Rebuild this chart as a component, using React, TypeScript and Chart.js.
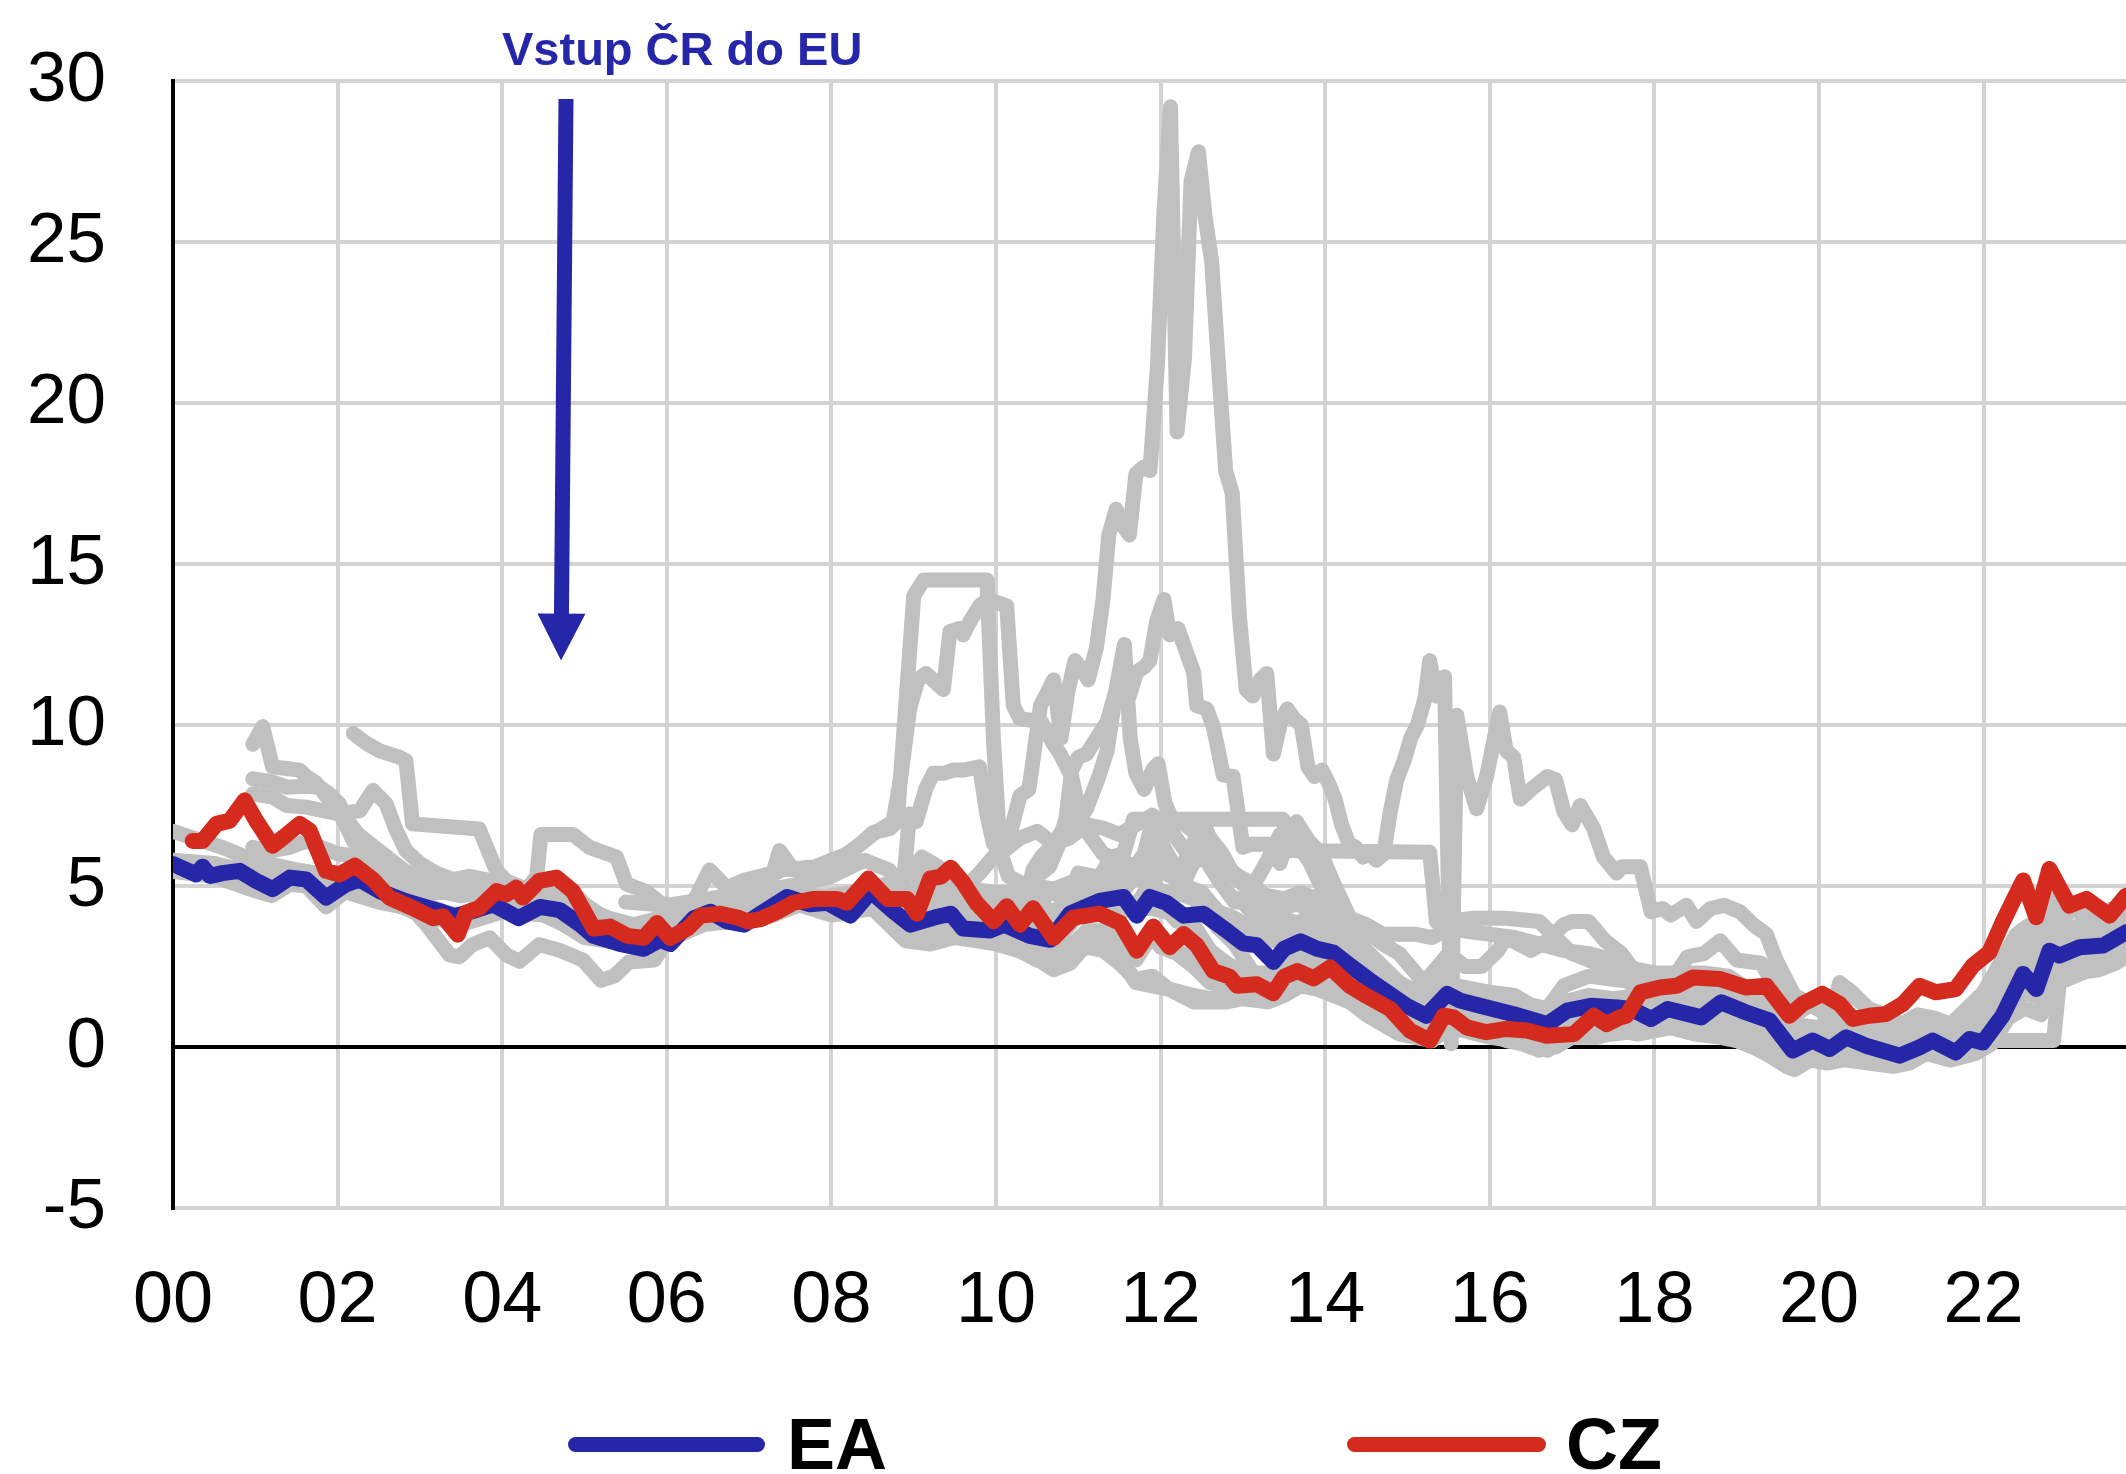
import React, { useEffect, useRef } from 'react';
import { Chart, registerables } from 'chart.js';

Chart.register(...registerables);

type Pt = [number, number];

// ---- axes / labels ----
const xTickYears = [0, 2, 4, 6, 8, 10, 12, 14, 16, 18, 20, 22];
const xMin = 0;
const xMax = 23.73;
const yMin = -5;
const yMax = 30;
const yStep = 5;
const annotationText = 'Vstup ČR do EU';
const arrowFrom: Pt = [4.775, 29.44];
const arrowTo: Pt = [4.715, 12.0];
const legendLabels = ['EA', 'CZ'];

// ---- series (x = years since 2000, y = %) ----
const ea: Pt[] = [[0,5.68],[0.28,5.36],[0.36,5.6],[0.45,5.31],[0.6,5.4],[0.81,5.47],[1.01,5.16],[1.21,4.9],[1.42,5.26],[1.62,5.2],[1.86,4.64],[2.1,5.05],[2.27,5.2],[2.51,4.84],[2.83,4.53],[3.0,4.4],[3.24,4.22],[3.42,4.06],[3.64,4.22],[3.89,4.43],[4.2,4.0],[4.46,4.35],[4.7,4.25],[4.95,3.8],[5.11,3.45],[5.43,3.2],[5.72,3.05],[5.92,3.33],[6.04,3.2],[6.33,4.0],[6.53,4.2],[6.73,3.9],[6.94,3.8],[7.14,4.14],[7.46,4.66],[7.74,4.43],[7.95,4.48],[8.23,4.08],[8.48,4.83],[8.76,4.2],[8.96,3.8],[9.25,4.02],[9.45,4.14],[9.6,3.68],[9.93,3.62],[10.1,3.8],[10.41,3.45],[10.66,3.33],[10.9,4.14],[11.26,4.54],[11.55,4.66],[11.71,4.08],[11.87,4.66],[12.07,4.48],[12.28,4.08],[12.52,4.14],[12.8,3.62],[13.0,3.22],[13.17,3.16],[13.37,2.64],[13.5,3.05],[13.7,3.28],[13.9,3.05],[14.1,2.93],[14.3,2.53],[14.58,2.0],[14.99,1.28],[15.23,0.97],[15.48,1.65],[15.64,1.44],[15.88,1.28],[16.29,1.02],[16.7,0.71],[16.94,1.13],[17.23,1.28],[17.55,1.23],[17.72,1.18],[17.96,0.87],[18.16,1.18],[18.57,0.92],[18.81,1.39],[19.11,1.08],[19.4,0.82],[19.68,-0.11],[19.92,0.2],[20.13,-0.06],[20.33,0.3],[20.57,0.04],[20.98,-0.27],[21.22,-0.01],[21.38,0.2],[21.66,-0.17],[21.83,0.25],[21.99,0.14],[22.23,0.97],[22.48,2.27],[22.64,1.8],[22.8,2.99],[22.92,2.84],[23.17,3.1],[23.45,3.15],[23.73,3.56]];

const cz: Pt[] = [[0.24,6.4],[0.36,6.4],[0.53,6.93],[0.69,7.03],[0.87,7.66],[1.01,7.03],[1.21,6.25],[1.34,6.51],[1.54,6.93],[1.66,6.72],[1.86,5.47],[2.02,5.36],[2.21,5.63],[2.43,5.2],[2.63,4.64],[2.91,4.32],[3.16,4.0],[3.28,4.06],[3.46,3.49],[3.56,4.17],[3.72,4.32],[3.93,4.84],[4.05,4.74],[4.17,4.95],[4.25,4.64],[4.45,5.16],[4.66,5.26],[4.86,4.83],[5.11,3.68],[5.31,3.74],[5.52,3.45],[5.72,3.39],[5.88,3.85],[6.04,3.39],[6.25,3.68],[6.41,4.08],[6.65,4.14],[6.86,4.02],[6.98,3.9],[7.14,3.97],[7.34,4.2],[7.54,4.48],[7.79,4.6],[8.07,4.6],[8.19,4.48],[8.45,5.23],[8.68,4.6],[8.92,4.6],[9.04,4.14],[9.2,5.23],[9.33,5.29],[9.45,5.57],[9.6,5.11],[9.76,4.48],[9.97,3.9],[10.13,4.37],[10.29,3.8],[10.45,4.31],[10.7,3.39],[10.94,4.02],[11.26,4.14],[11.51,3.85],[11.71,2.99],[11.91,3.74],[12.11,3.1],[12.28,3.51],[12.44,3.16],[12.64,2.36],[12.84,2.18],[12.93,1.9],[13.17,1.95],[13.37,1.67],[13.5,2.18],[13.66,2.36],[13.86,2.13],[14.06,2.47],[14.3,1.9],[14.5,1.59],[14.79,1.18],[15.03,0.51],[15.27,0.2],[15.44,0.97],[15.56,0.92],[15.72,0.61],[15.96,0.46],[16.2,0.56],[16.45,0.51],[16.69,0.35],[17.02,0.4],[17.26,0.97],[17.42,0.71],[17.58,0.92],[17.66,0.97],[17.83,1.7],[18.07,1.85],[18.27,1.9],[18.47,2.16],[18.8,2.11],[19.11,1.85],[19.36,1.9],[19.64,0.97],[19.8,1.34],[20.04,1.65],[20.25,1.34],[20.41,0.87],[20.61,0.97],[20.81,1.02],[21.02,1.34],[21.22,1.9],[21.42,1.7],[21.66,1.8],[21.87,2.53],[22.07,2.94],[22.23,3.87],[22.48,5.17],[22.64,4.03],[22.8,5.53],[23.04,4.39],[23.25,4.6],[23.53,4.08],[23.73,4.7]];

const gr: Pt[] = [[0.0,6.7],[0.3,6.45],[0.6,6.2],[0.97,5.8],[1.5,5.5],[2.0,5.3],[2.4,5.3],[2.8,4.7],[3.2,4.3],[3.5,4.0],[3.8,4.6],[4.2,4.5],[4.5,4.6],[4.8,4.0],[5.2,3.6],[5.6,3.5],[6.0,3.9],[6.4,4.2],[6.8,4.2],[7.3,4.6],[7.8,4.6],[8.3,4.8],[8.6,5.0],[8.9,5.3],[9.1,5.9],[9.3,5.6],[9.6,4.9],[9.8,5.4],[10.0,6.0],[10.15,6.4],[10.29,7.8],[10.4,8.0],[10.46,9.1],[10.54,10.6],[10.7,11.4],[10.79,9.6],[10.87,11.0],[10.96,12.0],[11.05,11.7],[11.12,11.4],[11.22,12.4],[11.3,13.9],[11.37,15.9],[11.46,16.7],[11.54,16.2],[11.62,15.9],[11.7,17.8],[11.79,18.0],[11.87,17.9],[11.96,21.1],[12.04,25.9],[12.12,29.2],[12.2,19.1],[12.29,21.4],[12.37,26.9],[12.46,27.8],[12.54,25.8],[12.62,24.4],[12.71,20.9],[12.79,17.9],[12.87,17.2],[12.96,13.3],[13.04,11.1],[13.12,10.9],[13.21,11.4],[13.29,11.6],[13.37,9.1],[13.46,10.1],[13.54,10.5],[13.62,10.2],[13.71,10.0],[13.79,8.7],[13.87,8.4],[13.96,8.6],[14.04,8.2],[14.12,7.7],[14.2,6.9],[14.29,6.3],[14.37,6.2],[14.46,5.9],[14.54,6.0],[14.62,5.8],[14.71,6.0],[14.79,7.3],[14.87,8.3],[14.96,8.9],[15.04,9.6],[15.12,10.0],[15.21,10.8],[15.27,12.0],[15.35,10.9],[15.45,11.5],[15.53,0.1],[15.6,10.3],[15.72,8.4],[15.84,7.4],[15.96,8.4],[16.04,9.4],[16.12,10.4],[16.2,9.2],[16.29,9.0],[16.37,7.7],[16.5,8.0],[16.7,8.4],[16.8,8.3],[16.9,7.3],[17.0,6.9],[17.1,7.5],[17.26,6.8],[17.38,5.9],[17.54,5.4],[17.6,5.6],[17.83,5.6],[17.96,4.2],[18.1,4.3],[18.2,4.1],[18.39,4.4],[18.51,3.9],[18.68,4.3],[18.85,4.4],[19.04,4.2],[19.2,3.8],[19.36,3.5],[19.48,2.7],[19.6,2.1],[19.7,1.6],[19.85,1.4],[20.0,1.3],[20.15,1.0],[20.25,2.0],[20.4,1.7],[20.6,1.2],[20.8,1.0],[21.0,0.7],[21.2,1.0],[21.4,0.9],[21.6,0.7],[21.8,1.2],[22.0,1.7],[22.2,2.6],[22.4,3.5],[22.5,3.7],[22.7,4.0],[22.8,4.6],[22.9,4.3],[23.1,4.3],[23.3,3.9],[23.5,3.8],[23.73,4.1]];

const pt: Pt[] = [[0,5.8],[0.5,5.7],[1,5.2],[1.5,5.3],[2,5.2],[2.5,5.0],[3,4.2],[3.5,4.0],[4,4.3],[4.5,4.2],[5,3.6],[5.5,3.3],[6,3.7],[6.5,4.1],[7,4.1],[7.5,4.7],[8,4.4],[8.5,4.9],[8.9,4.0],[9.2,4.3],[9.5,4.1],[9.9,4.1],[10.2,4.4],[10.4,5.0],[10.45,5.5],[10.55,5.9],[10.7,6.3],[10.85,6.9],[11.0,7.0],[11.1,7.4],[11.25,8.4],[11.35,9.2],[11.45,10.9],[11.55,12.2],[11.62,10.9],[11.71,11.65],[11.8,11.8],[11.87,12.0],[11.95,13.2],[12.04,13.9],[12.11,12.8],[12.21,13.0],[12.35,12.0],[12.4,11.65],[12.44,10.6],[12.56,10.5],[12.64,9.95],[12.76,8.45],[12.88,8.4],[13.0,6.2],[13.1,6.3],[13.3,6.3],[13.45,5.7],[13.55,6.5],[13.65,7.0],[13.8,6.4],[13.95,6.0],[14.1,5.1],[14.3,4.0],[14.5,3.6],[14.7,3.2],[14.9,2.9],[15.0,2.6],[15.2,2.0],[15.4,2.6],[15.5,2.9],[15.7,2.5],[15.9,2.5],[16.1,3.0],[16.2,3.4],[16.5,3.0],[16.7,3.3],[16.9,3.8],[17.0,3.9],[17.2,3.9],[17.4,3.3],[17.6,2.9],[17.8,2.2],[18.0,2.0],[18.3,1.7],[18.5,1.9],[18.8,1.8],[19.0,1.6],[19.3,1.2],[19.6,0.4],[19.8,0.2],[20.0,0.4],[20.2,0.8],[20.4,0.5],[20.7,0.3],[21.0,0.1],[21.3,0.4],[21.6,0.3],[21.8,0.4],[22.0,0.8],[22.2,1.5],[22.4,2.4],[22.5,2.6],[22.7,2.7],[22.8,3.2],[23.0,3.3],[23.3,3.1],[23.5,3.2],[23.73,3.5]];

const ie: Pt[] = [[0,5.6],[0.5,5.6],[1,5.0],[1.5,5.2],[2,5.1],[2.5,4.9],[3,4.1],[3.5,4.0],[4,4.3],[4.5,4.2],[5,3.5],[5.5,3.3],[6,3.6],[6.5,4.0],[7,4.1],[7.5,4.6],[8,4.4],[8.5,4.7],[8.9,4.5],[9.1,5.2],[9.2,5.7],[9.4,5.4],[9.7,4.9],[10.0,4.8],[10.3,4.8],[10.5,5.3],[10.65,5.6],[10.75,6.2],[10.85,7.1],[10.92,8.6],[11.0,9.0],[11.1,9.1],[11.25,9.7],[11.35,10.1],[11.45,11.0],[11.56,12.5],[11.63,9.6],[11.7,8.5],[11.8,8.0],[11.9,8.6],[11.97,8.8],[12.05,7.6],[12.15,7.0],[12.3,6.9],[12.45,6.6],[12.55,6.1],[12.7,5.2],[12.85,4.7],[13.0,4.5],[13.2,3.9],[13.4,4.0],[13.6,3.9],[13.8,3.7],[14.0,3.4],[14.2,2.9],[14.4,2.6],[14.6,2.0],[14.8,1.7],[15.0,1.2],[15.2,0.8],[15.4,1.3],[15.6,1.2],[15.8,1.1],[16.0,0.9],[16.3,0.6],[16.5,0.5],[16.8,0.5],[17.0,0.9],[17.3,0.9],[17.6,0.6],[17.8,0.6],[18.0,0.9],[18.3,0.9],[18.6,0.9],[18.9,0.7],[19.2,0.5],[19.5,0.0],[19.7,-0.1],[19.9,0.1],[20.2,0.2],[20.4,0.1],[20.7,-0.1],[21.0,-0.2],[21.3,0.1],[21.6,0.0],[21.9,0.2],[22.1,0.9],[22.3,1.8],[22.5,2.4],[22.7,2.3],[22.8,2.9],[22.95,2.7],[23.1,3.0],[23.4,3.0],[23.73,3.3]];

const it: Pt[] = [[0,5.7],[0.5,5.7],[1,5.4],[1.5,5.4],[2,5.2],[2.5,5.0],[3,4.3],[3.5,4.1],[4,4.4],[4.5,4.3],[5,3.6],[5.5,3.4],[6,3.8],[6.5,4.2],[7,4.2],[7.5,4.7],[8,4.6],[8.5,5.0],[8.9,4.5],[9.2,4.5],[9.5,4.3],[10,4.0],[10.4,4.0],[10.7,4.1],[10.9,4.6],[11.0,4.7],[11.3,4.8],[11.5,5.5],[11.6,5.3],[11.8,6.0],[11.9,7.0],[12.0,6.5],[12.1,5.5],[12.2,5.1],[12.4,5.7],[12.5,6.0],[12.7,5.2],[12.9,4.5],[13.1,4.5],[13.3,4.2],[13.5,4.3],[13.7,4.5],[13.9,4.1],[14.1,3.7],[14.3,3.2],[14.5,2.8],[14.7,2.4],[14.9,1.9],[15.0,1.6],[15.2,1.4],[15.4,2.2],[15.6,1.8],[15.8,1.6],[16.0,1.5],[16.3,1.3],[16.5,1.3],[16.7,1.2],[16.9,1.9],[17.2,2.2],[17.5,2.1],[17.8,2.0],[18.0,2.0],[18.2,2.0],[18.4,2.8],[18.6,2.9],[18.8,3.3],[19.0,2.7],[19.3,2.6],[19.5,1.7],[19.7,1.0],[19.9,1.3],[20.1,1.0],[20.3,1.8],[20.5,1.4],[20.7,1.0],[20.9,0.6],[21.1,0.6],[21.3,0.8],[21.6,0.7],[21.9,1.0],[22.1,1.8],[22.3,3.0],[22.5,3.5],[22.6,3.3],[22.8,4.3],[22.9,3.9],[23.1,4.3],[23.4,4.2],[23.6,4.3],[23.73,4.5]];

const es: Pt[] = [[0,5.7],[0.5,5.5],[1,5.2],[1.5,5.3],[2,5.1],[2.5,4.9],[3,4.2],[3.5,4.0],[4,4.3],[4.5,4.2],[5,3.5],[5.5,3.3],[6,3.7],[6.5,4.1],[7,4.1],[7.5,4.6],[8,4.4],[8.5,4.8],[8.9,4.1],[9.2,4.2],[9.5,4.0],[10,4.0],[10.3,4.1],[10.5,4.6],[10.7,4.1],[10.9,4.8],[11.0,5.4],[11.2,5.3],[11.4,5.3],[11.55,5.8],[11.7,5.2],[11.85,5.8],[11.95,5.5],[12.05,5.4],[12.2,5.2],[12.3,5.8],[12.45,6.6],[12.55,6.8],[12.65,6.1],[12.8,5.6],[12.95,5.3],[13.1,5.1],[13.3,4.6],[13.5,4.6],[13.7,4.4],[13.9,4.1],[14.1,3.7],[14.3,3.1],[14.5,2.7],[14.7,2.2],[14.9,1.8],[15.0,1.5],[15.2,1.3],[15.4,2.0],[15.6,1.9],[15.8,1.8],[16.0,1.7],[16.3,1.6],[16.5,1.3],[16.7,1.1],[16.9,1.4],[17.2,1.6],[17.5,1.5],[17.8,1.6],[18.0,1.4],[18.3,1.4],[18.5,1.5],[18.8,1.5],[19.0,1.2],[19.3,1.1],[19.5,0.5],[19.7,0.2],[19.9,0.4],[20.1,0.4],[20.3,0.7],[20.5,0.5],[20.7,0.3],[20.9,0.1],[21.1,0.3],[21.3,0.5],[21.6,0.4],[21.9,0.5],[22.1,1.1],[22.3,2.0],[22.5,2.6],[22.6,2.3],[22.8,3.1],[22.9,3.0],[23.1,3.4],[23.4,3.4],[23.6,3.6],[23.73,3.9]];

const de: Pt[] = [[0,5.45],[0.5,5.3],[1.0,4.85],[1.2,4.7],[1.42,5.05],[1.62,5.0],[1.86,4.35],[2.1,4.85],[2.27,5.0],[2.51,4.6],[2.83,4.3],[3.0,4.1],[3.5,3.8],[4,4.2],[4.5,4.1],[5,3.5],[5.5,3.2],[6,3.5],[6.5,4.0],[7,4.0],[7.5,4.5],[8,4.1],[8.5,4.3],[8.9,3.3],[9.2,3.2],[9.5,3.4],[10,3.2],[10.4,2.9],[10.7,2.4],[10.9,2.6],[11.1,3.2],[11.3,3.3],[11.5,2.8],[11.7,2.0],[11.9,1.9],[12.1,1.8],[12.4,1.4],[12.6,1.4],[12.8,1.4],[13.0,1.5],[13.3,1.4],[13.5,1.6],[13.7,1.9],[13.9,1.8],[14.1,1.6],[14.3,1.4],[14.5,1.1],[14.7,0.9],[14.9,0.6],[15.1,0.4],[15.3,0.2],[15.45,0.7],[15.6,0.7],[15.8,0.5],[16.0,0.4],[16.2,0.2],[16.4,0.1],[16.6,-0.1],[16.8,0.0],[17.0,0.3],[17.3,0.3],[17.6,0.5],[17.8,0.4],[18.0,0.5],[18.2,0.6],[18.5,0.4],[18.8,0.3],[19.0,0.2],[19.3,-0.1],[19.6,-0.6],[19.7,-0.7],[19.9,-0.4],[20.1,-0.5],[20.3,-0.4],[20.6,-0.5],[20.9,-0.6],[21.1,-0.5],[21.3,-0.2],[21.6,-0.4],[21.9,-0.2],[22.1,0.1],[22.3,0.9],[22.5,1.2],[22.7,1.0],[22.8,1.9],[22.95,2.1],[23.1,2.3],[23.4,2.4],[23.6,2.6],[23.73,2.8]];

const fr: Pt[] = [[0,5.6],[0.5,5.5],[1,5.0],[1.5,5.2],[2,5.0],[2.5,4.8],[3,4.1],[3.5,3.9],[4,4.3],[4.5,4.2],[5,3.5],[5.5,3.2],[6,3.6],[6.5,4.0],[7,4.0],[7.5,4.6],[8,4.3],[8.5,4.5],[8.9,3.6],[9.2,3.5],[9.5,3.7],[10,3.5],[10.4,3.3],[10.7,2.7],[10.9,3.1],[11.1,3.6],[11.3,3.6],[11.5,3.3],[11.7,3.0],[11.9,3.4],[12.0,3.2],[12.2,3.0],[12.4,2.7],[12.6,2.2],[12.8,2.2],[13.0,2.2],[13.3,2.0],[13.5,2.3],[13.7,2.5],[13.9,2.3],[14.1,2.2],[14.3,1.9],[14.5,1.6],[14.7,1.3],[14.9,0.9],[15.1,0.6],[15.3,0.5],[15.45,1.2],[15.6,1.1],[15.8,0.9],[16.0,0.9],[16.2,0.5],[16.5,0.3],[16.7,0.2],[16.9,0.7],[17.2,0.9],[17.5,0.7],[17.8,0.7],[18.0,0.8],[18.3,0.8],[18.6,0.7],[18.9,0.6],[19.2,0.4],[19.5,0.0],[19.7,-0.3],[19.9,0.0],[20.1,0.0],[20.3,0.0],[20.6,-0.2],[20.9,-0.3],[21.1,-0.1],[21.3,0.2],[21.6,0.0],[21.9,0.2],[22.1,0.6],[22.3,1.5],[22.5,2.0],[22.7,1.8],[22.8,2.6],[22.95,2.6],[23.1,2.9],[23.4,2.9],[23.6,3.1],[23.73,3.3]];

const be: Pt[] = [[0,5.8],[0.5,5.6],[1,5.1],[1.5,5.3],[2,5.1],[2.5,4.9],[3,4.2],[3.5,4.0],[4,4.3],[4.5,4.2],[5,3.5],[5.5,3.3],[6,3.6],[6.5,4.1],[7,4.1],[7.5,4.6],[8,4.4],[8.5,4.7],[8.9,4.2],[9.2,4.0],[9.5,3.9],[10,3.8],[10.4,3.5],[10.7,3.2],[10.9,3.8],[11.0,4.1],[11.3,4.3],[11.5,4.2],[11.7,4.3],[11.9,5.3],[12.0,4.5],[12.2,3.9],[12.4,3.8],[12.6,3.0],[12.8,2.6],[13.0,2.3],[13.3,2.3],[13.5,2.5],[13.7,2.8],[13.9,2.6],[14.1,2.5],[14.3,2.1],[14.5,1.8],[14.7,1.4],[14.9,1.0],[15.1,0.7],[15.3,0.6],[15.45,1.3],[15.6,1.2],[15.8,1.0],[16.0,0.9],[16.2,0.6],[16.5,0.3],[16.7,0.2],[16.9,0.8],[17.2,0.9],[17.5,0.7],[17.8,0.7],[18.0,0.8],[18.3,0.9],[18.6,0.8],[18.9,0.7],[19.2,0.5],[19.5,0.0],[19.7,-0.2],[19.9,0.1],[20.1,0.0],[20.3,0.1],[20.6,-0.1],[20.9,-0.2],[21.1,0.0],[21.3,0.2],[21.6,0.1],[21.9,0.3],[22.1,0.7],[22.3,1.6],[22.5,2.1],[22.7,1.9],[22.8,2.8],[22.95,2.8],[23.1,3.0],[23.4,3.0],[23.6,3.2],[23.73,3.4]];

const at: Pt[] = [[0,5.6],[0.5,5.6],[1,5.0],[1.5,5.2],[2,5.0],[2.5,4.8],[3,4.1],[3.5,3.9],[4,4.3],[4.5,4.2],[5,3.4],[5.5,3.2],[6,3.6],[6.5,4.0],[7,4.0],[7.5,4.6],[8,4.3],[8.5,4.6],[8.9,4.0],[9.2,4.3],[9.5,3.9],[10,3.7],[10.4,3.3],[10.7,2.6],[10.9,3.1],[11.1,3.6],[11.3,3.6],[11.5,3.2],[11.7,2.7],[11.9,3.5],[12.0,3.1],[12.2,2.9],[12.4,2.5],[12.6,2.0],[12.8,1.9],[13.0,1.9],[13.3,1.7],[13.5,2.0],[13.7,2.3],[13.9,2.1],[14.1,2.0],[14.3,1.7],[14.5,1.4],[14.7,1.1],[14.9,0.7],[15.1,0.4],[15.3,0.3],[15.45,1.1],[15.6,1.0],[15.8,0.8],[16.0,0.7],[16.2,0.4],[16.5,0.2],[16.7,0.1],[16.9,0.6],[17.2,0.6],[17.5,0.5],[17.8,0.6],[18.0,0.7],[18.3,0.7],[18.6,0.6],[18.9,0.4],[19.2,0.2],[19.5,-0.2],[19.7,-0.4],[19.9,-0.1],[20.1,-0.2],[20.3,-0.1],[20.6,-0.3],[20.9,-0.4],[21.1,-0.2],[21.3,0.1],[21.6,-0.1],[21.9,0.1],[22.1,0.5],[22.3,1.4],[22.5,1.9],[22.7,1.7],[22.8,2.6],[22.95,2.6],[23.1,2.9],[23.4,3.0],[23.6,3.2],[23.73,3.4]];

const lu: Pt[] = [[0,5.5],[0.5,5.4],[1,4.9],[1.5,5.1],[2,4.9],[2.5,4.5],[2.9,4.3],[3.08,3.8],[3.36,2.86],[3.48,2.8],[3.64,3.18],[3.85,3.39],[4.05,2.86],[4.21,2.66],[4.45,3.18],[4.7,3.0],[4.98,2.7],[5.2,2.07],[5.36,2.2],[5.54,2.64],[5.85,2.7],[6.0,3.3],[6.23,3.56],[6.45,3.8],[6.8,3.9],[7.0,3.9],[7.3,4.1],[7.6,4.4],[8.0,4.4],[8.3,4.5],[8.5,4.6],[8.7,4.1],[8.9,4.0],[9.0,3.5],[9.3,3.5],[9.6,3.6],[9.9,3.3],[10.2,3.1],[10.5,2.7],[10.7,2.6],[10.9,2.8],[11.1,3.1],[11.3,3.0],[11.5,2.6],[11.7,2.1],[11.9,2.2],[12.1,1.8],[12.4,1.6],[12.6,1.5],[12.8,1.6],[13.0,1.6],[13.3,1.5],[13.5,1.8],[13.7,2.1],[13.9,1.9],[14.1,1.7],[14.3,1.4],[14.5,1.0],[14.7,0.7],[14.9,0.4],[15.1,0.3],[15.3,0.2],[15.5,0.6],[15.7,0.5],[16.0,0.3],[16.3,0.2],[16.5,0.0],[16.7,-0.1],[16.9,0.3],[17.2,0.4],[17.5,0.4],[17.8,0.5],[18.0,0.6],[18.3,0.6],[18.6,0.5],[18.9,0.3],[19.2,0.0],[19.5,-0.4],[19.7,-0.5],[19.9,-0.3],[20.1,-0.3],[20.4,-0.3],[20.7,-0.4],[21.0,-0.5],[21.3,-0.2],[21.6,-0.3],[21.9,-0.1],[22.1,0.3],[22.3,1.3],[22.5,1.7],[22.7,1.5],[22.8,2.3],[22.95,2.5],[23.1,2.7],[23.4,2.8],[23.73,3.0]];

const sk: Pt[] = [[0.97,9.4],[1.09,9.95],[1.21,8.7],[1.38,8.65],[1.54,8.6],[1.62,8.4],[1.74,8.2],[1.86,7.8],[2.02,7.3],[2.1,6.9],[2.19,6.4],[2.3,6.0],[2.5,5.7],[2.7,5.3],[2.9,5.0],[3.1,4.8],[3.3,4.8],[3.5,4.7],[3.7,4.9],[3.9,4.7],[4.1,4.6],[4.3,4.9],[4.42,5.3],[4.47,6.6],[4.86,6.6],[5.06,6.2],[5.39,5.9],[5.51,5.06],[5.75,4.83],[5.92,4.48],[6.2,4.2],[6.5,4.4],[6.8,4.5],[7.2,4.4],[7.5,4.6],[7.8,4.5],[8.1,4.6],[8.4,4.8],[8.7,4.9],[8.9,4.6],[9.1,5.0],[9.3,4.8],[9.6,4.6],[9.9,4.1],[10.2,4.0],[10.5,3.9],[10.8,3.8],[11.0,4.4],[11.3,4.6],[11.6,4.4],[11.8,4.6],[11.95,4.9],[12.1,4.8],[12.3,4.7],[12.5,4.5],[12.7,3.7],[12.9,3.2],[13.1,2.4],[13.3,2.0],[13.5,2.3],[13.7,2.7],[13.9,2.4],[14.1,2.2],[14.3,1.9],[14.5,1.5],[14.7,1.1],[14.9,0.8],[15.1,0.6],[15.3,0.5],[15.5,1.0],[15.7,0.9],[16.0,0.7],[16.3,0.5],[16.6,0.4],[16.9,0.9],[17.2,0.9],[17.5,0.8],[17.8,0.9],[18.0,0.9],[18.3,0.9],[18.6,1.0],[18.9,0.9],[19.2,0.6],[19.5,0.1],[19.7,-0.1],[20.0,0.0],[20.3,0.1],[20.6,-0.2],[20.9,-0.2],[21.2,0.0],[21.5,0.0],[21.8,0.2],[22.0,0.6],[22.2,1.3],[22.4,2.3],[22.6,3.0],[22.8,3.2],[23.0,3.4],[23.3,3.5],[23.6,3.7],[23.73,3.9]];

const si: Pt[] = [[0.97,7.86],[1.21,7.76],[1.38,7.5],[1.62,7.45],[1.82,7.34],[2.02,7.24],[2.27,7.34],[2.43,7.97],[2.59,7.55],[2.7,6.8],[2.83,6.1],[3.0,5.7],[3.2,5.4],[3.4,5.2],[3.6,5.3],[3.8,5.2],[4.0,5.0],[4.3,4.9],[4.6,4.9],[4.9,4.7],[5.1,4.2],[5.4,3.8],[5.7,3.7],[6.0,3.9],[6.3,4.1],[6.6,4.4],[7.0,4.4],[7.3,4.7],[7.6,4.8],[8.0,4.6],[8.3,4.6],[8.5,4.8],[8.8,5.2],[9.0,5.5],[9.3,5.2],[9.6,4.7],[9.9,4.1],[10.2,3.9],[10.5,3.8],[10.8,3.7],[11.0,4.3],[11.3,4.7],[11.6,5.0],[11.8,5.8],[11.95,6.6],[12.1,5.9],[12.3,5.2],[12.45,6.0],[12.6,6.5],[12.75,6.0],[12.9,5.3],[13.1,4.9],[13.3,5.8],[13.45,6.6],[13.6,6.5],[13.8,5.8],[13.95,5.0],[14.1,4.0],[14.3,3.5],[14.5,3.0],[14.7,2.5],[14.9,2.0],[15.1,1.4],[15.3,1.0],[15.5,1.5],[15.7,1.4],[16.0,1.1],[16.3,0.9],[16.6,0.7],[16.9,1.0],[17.2,1.0],[17.5,0.8],[17.8,0.9],[18.0,0.9],[18.3,0.9],[18.6,0.9],[18.9,0.7],[19.2,0.4],[19.5,0.0],[19.7,-0.2],[20.0,0.1],[20.3,0.2],[20.6,-0.1],[20.9,-0.2],[21.2,0.0],[21.5,0.1],[21.8,0.2],[22.0,0.6],[22.2,1.5],[22.4,2.6],[22.6,3.2],[22.8,3.6],[23.0,3.5],[23.3,3.6],[23.6,3.7],[23.73,3.9]];

const mt: Pt[] = [[0.97,6.2],[1.2,6.1],[1.42,6.2],[1.62,6.4],[1.8,6.2],[2.0,6.0],[2.3,5.9],[2.6,5.6],[2.9,5.2],[3.2,4.9],[3.5,4.7],[3.8,4.8],[4.1,4.7],[4.4,4.6],[4.7,4.6],[5.0,4.3],[5.3,4.0],[5.6,3.8],[5.9,4.0],[6.2,4.2],[6.5,4.4],[6.8,4.6],[7.1,4.6],[7.4,4.8],[7.7,4.7],[8.0,4.7],[8.3,4.8],[8.6,4.8],[8.9,4.9],[9.2,4.6],[9.5,4.4],[9.8,4.3],[10.1,4.3],[10.4,4.2],[10.7,4.2],[11.0,4.4],[11.3,4.4],[11.6,4.3],[11.9,4.3],[12.2,4.1],[12.5,4.1],[12.8,3.9],[13.1,3.5],[13.4,3.3],[13.7,3.5],[14.0,3.3],[14.3,2.9],[14.6,2.5],[14.9,2.0],[15.2,1.6],[15.5,1.6],[15.8,1.4],[16.1,1.0],[16.4,0.9],[16.7,0.9],[17.0,1.3],[17.3,1.3],[17.6,1.2],[17.9,1.2],[18.2,1.3],[18.5,1.4],[18.8,1.3],[19.1,1.0],[19.4,0.6],[19.7,0.3],[20.0,0.5],[20.3,0.6],[20.6,0.4],[20.9,0.3],[21.2,0.5],[21.5,0.6],[21.8,0.8],[22.1,1.4],[22.4,2.6],[22.6,3.3],[22.8,3.6],[23.0,3.6],[23.3,3.8],[23.6,3.9],[23.73,4.1]];

const cy: Pt[] = [[2.19,9.74],[2.35,9.43],[2.51,9.2],[2.75,9.0],[2.83,8.9],[2.91,6.93],[3.72,6.77],[3.93,5.47],[4.05,5.16],[4.3,4.9],[4.6,4.7],[4.9,4.6],[5.2,4.1],[5.5,3.6],[5.8,3.6],[6.1,3.9],[6.4,4.1],[6.7,4.3],[7.0,4.5],[7.5,4.6],[8.0,4.6],[8.5,4.6],[8.9,4.6],[9.2,4.6],[9.5,4.6],[9.8,4.6],[10.0,4.6],[10.3,4.6],[10.5,4.7],[10.8,4.8],[11.0,4.8],[11.2,5.0],[11.4,5.9],[11.55,6.0],[11.67,7.07],[13.49,7.07],[13.55,6.1],[15.27,6.05],[15.35,3.9],[15.5,3.9],[15.8,4.0],[16.2,4.0],[16.6,3.9],[16.8,3.4],[17.0,2.9],[17.3,2.6],[17.5,2.3],[17.7,2.0],[18.0,1.8],[18.3,1.7],[18.6,2.0],[18.9,1.9],[19.2,1.4],[19.5,0.7],[19.7,0.3],[20.0,0.5],[20.3,0.8],[20.6,0.5],[20.9,0.2],[21.2,0.3],[21.5,0.3],[21.8,0.5],[22.1,1.4],[22.4,2.7],[22.6,3.3],[22.8,3.9],[23.0,3.6],[23.3,3.6],[23.6,3.8],[23.73,4.0]];

const lv: Pt[] = [[0.97,8.33],[1.21,8.23],[1.38,8.07],[1.62,8.1],[1.78,8.07],[1.9,7.86],[2.02,7.55],[2.1,7.1],[2.25,6.6],[2.4,6.3],[2.6,5.9],[2.8,5.5],[3.0,5.2],[3.2,5.0],[3.4,4.8],[3.6,4.9],[3.8,5.1],[4.0,4.9],[4.5,4.6],[5.0,3.8],[5.5,3.6],[6.0,4.0],[6.5,4.4],[7.0,5.0],[7.4,5.5],[7.8,5.6],[8.2,6.0],[8.5,6.6],[8.75,7.0],[8.85,8.5],[8.95,10.5],[9.05,11.4],[9.15,11.6],[9.36,11.1],[9.44,12.9],[9.56,13.0],[9.6,12.8],[9.68,13.2],[9.8,13.7],[9.9,13.9],[10.13,13.7],[10.21,10.6],[10.29,10.2],[10.55,10.1],[10.7,9.4],[10.78,9.1],[10.92,8.4],[10.98,7.7],[11.1,6.7],[11.3,6.0],[11.5,5.8],[11.7,5.6],[11.9,5.9],[12.1,5.5],[12.3,4.9],[12.5,4.3],[12.7,3.7],[12.9,3.3],[13.2,3.2],[13.5,3.4],[13.7,3.6],[13.9,3.3],[14.1,3.0],[14.3,2.7],[14.5,2.2],[14.7,1.7],[14.9,1.4],[15.1,1.0],[15.3,0.7],[15.5,1.1],[15.7,1.1],[16.0,1.0],[16.3,0.8],[16.6,0.6],[16.9,0.9],[17.2,0.9],[17.5,0.8],[17.8,0.9],[18.0,0.9],[18.3,0.9],[18.6,0.9],[18.9,0.7],[19.2,0.4],[19.5,0.1],[19.7,-0.1],[20.0,0.0],[20.3,0.2],[20.6,0.0],[20.9,-0.1],[21.2,0.0],[21.5,0.1],[21.8,0.2],[22.0,0.5],[22.2,1.3],[22.4,2.3],[22.6,2.9],[22.8,3.4],[23.0,3.4],[23.3,3.6],[23.6,3.8],[23.73,4.0]];

const lt: Pt[] = [[4.0,4.6],[4.5,4.3],[5.0,3.8],[5.5,3.6],[6.0,4.0],[6.32,4.48],[6.52,5.5],[6.73,4.94],[6.93,5.17],[7.29,5.4],[7.37,6.1],[7.54,5.5],[7.78,5.4],[8.06,5.75],[8.35,6.3],[8.51,6.67],[8.71,6.78],[8.8,7.0],[9.0,14.0],[9.12,14.5],[9.89,14.5],[9.93,12.0],[9.97,9.5],[10.05,6.1],[10.15,5.3],[10.3,5.1],[10.5,5.0],[10.7,4.9],[10.9,5.1],[11.1,5.1],[11.3,5.3],[11.5,5.0],[11.7,5.3],[11.9,6.1],[12.0,6.4],[12.1,5.9],[12.3,5.0],[12.5,4.8],[12.7,4.2],[12.9,4.0],[13.1,3.7],[13.3,3.7],[13.5,3.6],[13.7,3.9],[13.9,3.6],[14.1,3.2],[14.3,2.9],[14.5,2.4],[14.7,1.9],[14.9,1.6],[15.1,1.2],[15.3,1.0],[15.5,1.3],[15.7,1.2],[16.0,1.0],[16.3,0.8],[16.6,0.6],[16.9,0.8],[17.2,0.8],[17.5,0.6],[17.8,0.7],[18.0,0.6],[18.3,0.7],[18.6,0.7],[18.9,0.5],[19.2,0.3],[19.5,0.1],[19.7,0.0],[20.0,0.2],[20.3,0.4],[20.6,0.1],[20.9,0.0],[21.2,0.1],[21.5,0.2],[21.8,0.3],[22.0,0.2],[22.85,0.2],[22.92,2.0],[23.2,2.3],[23.5,2.6],[23.73,2.9]];

const hr: Pt[] = [[5.5,4.5],[6.0,4.4],[6.5,4.6],[7.0,4.8],[7.5,5.0],[8.0,5.3],[8.4,5.8],[8.7,5.5],[8.87,4.9],[8.95,7.24],[9.03,7.0],[9.15,8.05],[9.24,8.5],[9.36,8.5],[9.48,8.6],[9.6,8.6],[9.8,8.7],[9.89,7.2],[9.97,6.3],[10.1,6.1],[10.3,6.5],[10.5,6.7],[10.7,6.3],[10.9,6.5],[11.1,6.9],[11.3,6.8],[11.5,6.6],[11.7,6.9],[11.9,7.2],[12.1,6.8],[12.3,6.1],[12.5,6.3],[12.7,5.8],[12.9,5.3],[13.1,4.8],[13.3,4.7],[13.5,4.6],[13.7,4.8],[13.9,4.6],[14.1,4.3],[14.3,4.0],[14.5,3.8],[14.7,3.5],[14.9,3.5],[15.1,3.5],[15.3,3.4],[15.5,3.7],[15.7,3.6],[16.0,3.5],[16.3,3.4],[16.6,3.2],[16.9,3.0],[17.2,2.9],[17.5,2.7],[17.8,2.4],[18.0,2.3],[18.3,2.3],[18.6,2.3],[18.9,2.2],[19.2,1.7],[19.5,1.0],[19.7,0.7],[20.0,0.6],[20.3,1.0],[20.6,0.8],[20.9,0.6],[21.2,0.7],[21.5,0.6],[21.8,0.8],[22.0,1.1],[22.2,1.7],[22.4,2.9],[22.6,3.2],[22.8,3.9],[23.0,3.7],[23.3,3.8],[23.6,3.9],[23.73,4.1]];

const grayNames = ['GR', 'PT', 'IE', 'IT', 'ES', 'DE', 'FR', 'BE', 'AT', 'LU', 'SK', 'SI', 'MT', 'CY', 'LV', 'LT', 'HR'];
const grayValues: Pt[][] = [gr, pt, ie, it, es, de, fr, be, at, lu, sk, si, mt, cy, lv, lt, hr];

// ---- styles ----
const FONT = "'Liberation Sans', Arial, Helvetica, sans-serif";
const BLUE = '#2526A8';
const RED = '#D52B1E';
const GRAY = '#C0C0C0';
const GRID = '#D3D3D3';

const toXY = (s: Pt[]) => s.map(([x, y]) => ({ x, y }));

const arrowPlugin = {
  id: 'entryArrow',
  afterDatasetsDraw(chart: any) {
    const { ctx, scales } = chart;
    const xs = scales.x;
    const ys = scales.y;
    const x0 = xs.getPixelForValue(arrowFrom[0]);
    const y0 = ys.getPixelForValue(arrowFrom[1]);
    const x1 = xs.getPixelForValue(arrowTo[0]);
    const y1 = ys.getPixelForValue(arrowTo[1]);
    const dx = x1 - x0;
    const dy = y1 - y0;
    const len = Math.sqrt(dx * dx + dy * dy);
    const ux = dx / len;
    const uy = dy / len;
    const headLen = 47;
    const headHalf = 24;
    const bx = x1 - ux * headLen;
    const by = y1 - uy * headLen;
    ctx.save();
    ctx.strokeStyle = BLUE;
    ctx.fillStyle = BLUE;
    ctx.lineWidth = 15;
    ctx.lineCap = 'butt';
    ctx.beginPath();
    ctx.moveTo(x0, y0);
    ctx.lineTo(bx + ux * 2, by + uy * 2);
    ctx.stroke();
    ctx.beginPath();
    ctx.moveTo(x1, y1);
    ctx.lineTo(bx - uy * headHalf, by + ux * headHalf);
    ctx.lineTo(bx + uy * headHalf, by - ux * headHalf);
    ctx.closePath();
    ctx.fill();
    ctx.restore();
  },
};

export default function App() {
  const ref = useRef<HTMLCanvasElement>(null);

  useEffect(() => {
    if (!ref.current) return;
    Chart.defaults.font.family = FONT;
    const datasets: any[] = [
      { label: legendLabels[1], data: toXY(cz), borderColor: RED, borderWidth: 16 },
      { label: legendLabels[0], data: toXY(ea), borderColor: BLUE, borderWidth: 16 },
      ...grayValues.map((s, i) => ({ label: grayNames[i], data: toXY(s), borderColor: GRAY, borderWidth: 15 })),
    ];
    const chart = new Chart(ref.current, {
      type: 'line',
      data: { datasets },
      plugins: [arrowPlugin],
      options: {
        responsive: false,
        animation: false,
        events: [],
        layout: { padding: { top: 81, left: 0, right: 0, bottom: 0 } },
        elements: {
          point: { radius: 0 },
          line: { tension: 0, borderJoinStyle: 'round', borderCapStyle: 'round', fill: false },
        },
        plugins: {
          legend: { display: false },
          tooltip: { enabled: false },
          title: { display: false },
        },
        scales: {
          x: {
            type: 'linear',
            min: xMin,
            max: xMax,
            afterBuildTicks: (s: any) => {
              s.ticks = xTickYears.map((v) => ({ value: v }));
            },
            afterFit: (s: any) => {
              s.height = 266;
            },
            ticks: {
              autoSkip: false,
              maxRotation: 0,
              minRotation: 0,
              color: '#000',
              font: { size: 72, family: FONT },
              padding: 51,
              callback: (v: any) => String(v).padStart(2, '0'),
            },
            grid: { color: GRID, lineWidth: 4, drawTicks: false },
            border: { display: false },
          },
          y: {
            min: yMin,
            max: yMax,
            afterFit: (s: any) => {
              s.width = 173;
              s.paddingTop = 0;
              s.paddingBottom = 0;
            },
            ticks: {
              stepSize: yStep,
              color: '#000',
              font: { size: 71, family: FONT },
              padding: 67,
            },
            grid: {
              color: (c: any) => (c.tick && c.tick.value === 0 ? '#000' : GRID),
              lineWidth: 4,
              drawTicks: false,
            },
            border: { display: true, color: '#000', width: 4 },
          },
        },
      } as any,
    });
    return () => chart.destroy();
  }, []);

  const legendText: React.CSSProperties = {
    position: 'absolute',
    top: 1408,
    font: `bold 72px ${FONT}`,
    lineHeight: '72px',
    color: '#000',
    whiteSpace: 'nowrap',
  };

  return (
    <div style={{ position: 'fixed', left: 0, top: 0, width: 2126, height: 1474, background: '#fff', overflow: 'hidden' }}>
      <canvas ref={ref} width={2126} height={1474} style={{ position: 'absolute', left: 0, top: 0, width: 2126, height: 1474 }} />
      <div
        style={{
          position: 'absolute',
          left: 502,
          top: 25,
          font: `bold 47px ${FONT}`,
          lineHeight: '47px',
          color: BLUE,
          whiteSpace: 'nowrap',
        }}
      >
        {annotationText}
      </div>
      <div style={{ position: 'absolute', left: 568, top: 1437, width: 197, height: 15, borderRadius: 8, background: BLUE }} />
      <div style={{ ...legendText, left: 787 }}>{legendLabels[0]}</div>
      <div style={{ position: 'absolute', left: 1347, top: 1437, width: 199, height: 15, borderRadius: 8, background: RED }} />
      <div style={{ ...legendText, left: 1566 }}>{legendLabels[1]}</div>
    </div>
  );
}
